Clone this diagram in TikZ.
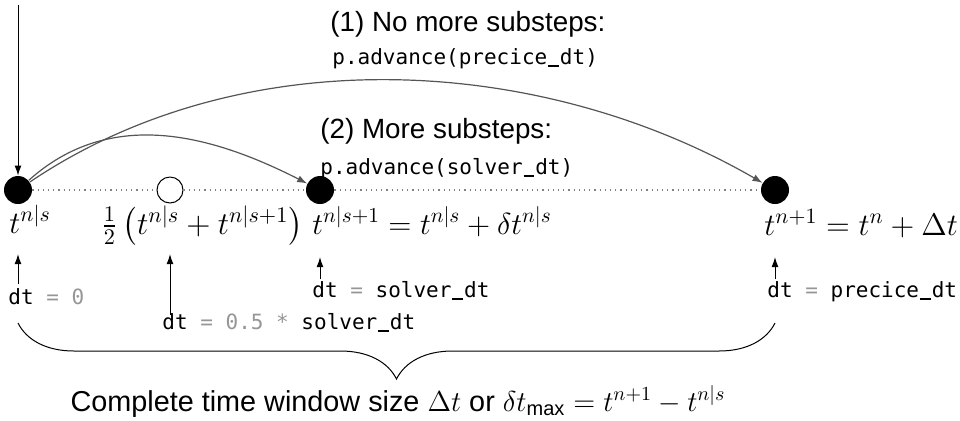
\RequirePackage{fix-cm}
\documentclass[tikz,border=0pt]{standalone}
\usepackage{amsmath, amssymb}
\usepackage[no-math]{fontspec}
\setmainfont{Liberation Sans}
\setmonofont{DejaVu Sans Mono}
\usepackage{xcolor}
\usepackage{tikz}
\usetikzlibrary{arrows.meta, decorations.pathreplacing, positioning, calc}

\definecolor{arcgray}{RGB}{85,85,85}
\definecolor{codegray}{RGB}{150,150,150}
\newcommand{\cg}[1]{\textcolor{codegray}{#1}}
\newcommand{\us}{\makebox[0.602em][c]{\rule[-0.12em]{0.52em}{0.075em}}}

\tikzset{
    fulldot/.style={circle, fill=black, inner sep=0pt, minimum size=14pt},
    halfdot/.style={circle, draw=black, fill=white, line width=0.5pt, inner sep=0pt, minimum size=13pt},
    timelabel/.style={anchor=base west, inner sep=0pt, font=\fontsize{15.6}{18}\selectfont},
    codelabel/.style={anchor=base west, inner sep=0pt, font=\fontsize{10.5}{12}\ttfamily},
    headlabel/.style={anchor=base west, inner sep=0pt, font=\fontsize{13.9}{16}\selectfont},
    steparc/.style={arcgray, line width=0.6pt, -{Latex[length=5pt, width=3.6pt]}},
    pointer/.style={black, line width=0.5pt, -{Latex[length=5pt, width=3.4pt]}}
}

\begin{document}
\begin{tikzpicture}[x=0.5pt, y=-0.5pt]
    \useasboundingbox (0,0) rectangle (960,420);

    % time points
    \node[fulldot] (tns) at (18,190) {};
    \node[halfdot] (thalf) at (170,190) {};
    \node[fulldot] (tnsp) at (320,190) {};
    \node[fulldot] (tnp) at (775,190) {};
    \coordinate (Entry) at (18,5);

    \draw[dotted, gray, line width=0.6pt] (tns) -- (thalf) -- (tnsp) -- (tnp);
    \draw[pointer] (Entry) -- (tns);

    % the two kinds of advance
    \draw[steparc] (tns) to[out=34, in=150, looseness=0.9] (tnp);
    \draw[steparc] (tns) to[out=42, in=153, looseness=1] (tnsp);

    \node[headlabel] (head1) at (330,31) {(1) No more substeps:};
    \node[codelabel] (code1) at (332,64) {p.advance(precice\us dt)};
    \node[headlabel] (head2) at (320,138) {(2) More substeps:};
    \node[codelabel] (code2) at (320,174) {p.advance(solver\us dt)};

    % labels below the points
    \node[timelabel] (ltns) at (9,233) {$t^{n|s}$};
    \node[timelabel, font=\fontsize{15.9}{18}\selectfont] (lthalf) at (101,234) {$\frac{1}{2}\left(t^{n|s}+t^{n|s+1}\right)$};
    \node[timelabel, font=\fontsize{15.2}{18}\selectfont] (ltnsp) at (312,234) {$t^{n|s+1}=t^{n|s}+\delta t^{n|s}$};
    \node[timelabel] (ltnp) at (764,235) {$t^{n+1}=t^{n}+\Delta t$};

    \node[codelabel] (dt0) at (8,304) {dt \cg{= 0}};
    \node[codelabel] (dthalf) at (162,329) {dt \cg{= 0.5 *} solver\us dt};
    \node[codelabel] (dtsolver) at (312,297) {dt \cg{=} solver\us dt};
    \node[codelabel] (dtprecice) at (767,297) {dt \cg{=} precice\us dt};

    \draw[pointer] (18,284) -- (18,254);
    \draw[pointer] (170,315) -- (170,254);
    \draw[pointer] (320,279) -- (320,257);
    \draw[pointer] (775,279) -- (775,257);

    % window
    \coordinate (WinL) at (18,323);
    \coordinate (WinR) at (775,323);
    \draw[black, line width=0.5pt, decorate, decoration={brace, mirror, amplitude=28pt}] (WinL) -- (WinR);
    \node[font=\fontsize{14.4}{16}\selectfont, anchor=base, inner sep=0pt] (window) at (398,411)
        {Complete time window size $\Delta t$ or $\delta t_{\text{max}}=t^{n+1}-t^{n|s}$};
\end{tikzpicture}
\end{document}
